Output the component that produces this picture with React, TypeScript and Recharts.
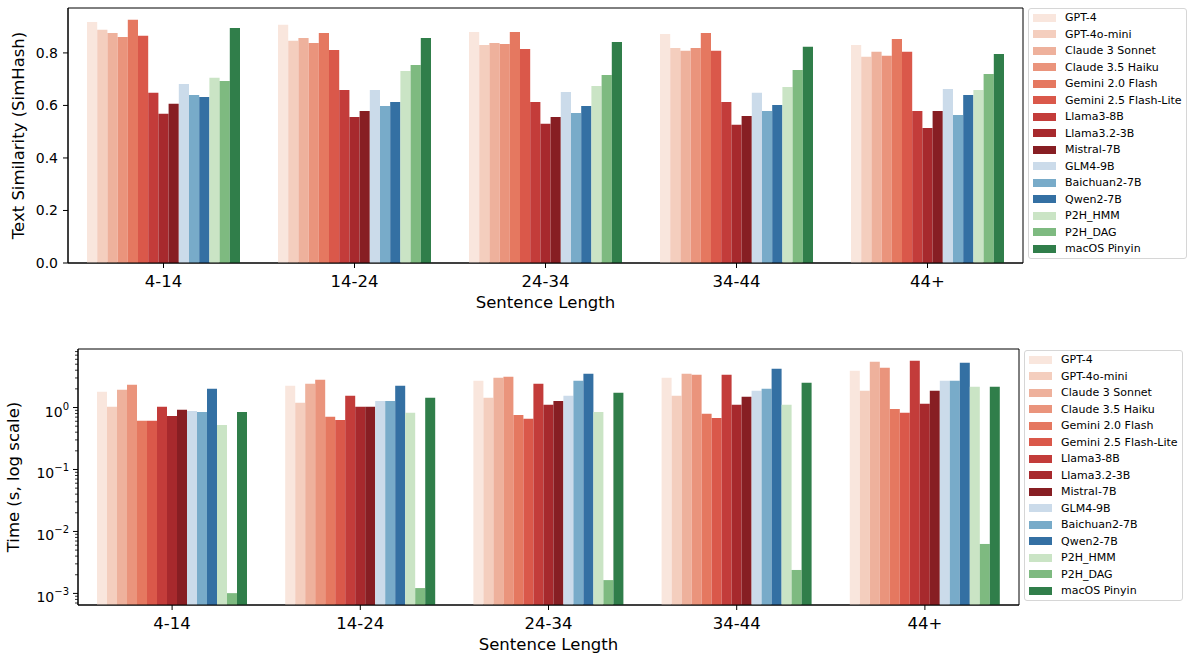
import React from 'react';
import { BarChart, Bar, XAxis, YAxis, ReferenceArea } from 'recharts';

const categories = ['4-14', '14-24', '24-34', '34-44', '44+'];

const models = [
  'GPT-4',
  'GPT-4o-mini',
  'Claude 3 Sonnet',
  'Claude 3.5 Haiku',
  'Gemini 2.0 Flash',
  'Gemini 2.5 Flash-Lite',
  'Llama3-8B',
  'Llama3.2-3B',
  'Mistral-7B',
  'GLM4-9B',
  'Baichuan2-7B',
  'Qwen2-7B',
  'P2H_HMM',
  'P2H_DAG',
  'macOS Pinyin',
];

// seaborn Reds / Blues / Greens, desaturated to 0.75
const colors = [
  '#f9e6dd', '#f4cebe', '#eeb19c', '#ea947c', '#e57860', '#da584a', '#c33c3a', '#a7292d', '#871e23',
  '#cbdbea', '#78abc9', '#3470a3',
  '#cae4c5', '#7eba80', '#307e4a',
];

// text similarity (SimHash), one array per length bucket, in model order
const sim4to14 = [0.918, 0.888, 0.876, 0.861, 0.926, 0.865, 0.648, 0.568, 0.606, 0.682, 0.64, 0.632, 0.705, 0.693, 0.895];
const sim14to24 = [0.907, 0.846, 0.857, 0.838, 0.876, 0.811, 0.659, 0.556, 0.579, 0.659, 0.598, 0.613, 0.731, 0.754, 0.857];
const sim24to34 = [0.88, 0.83, 0.838, 0.834, 0.88, 0.815, 0.613, 0.53, 0.556, 0.651, 0.571, 0.598, 0.674, 0.716, 0.842];
const sim34to44 = [0.872, 0.819, 0.808, 0.819, 0.876, 0.808, 0.613, 0.526, 0.56, 0.648, 0.579, 0.602, 0.67, 0.735, 0.823];
const sim44plus = [0.83, 0.785, 0.804, 0.789, 0.853, 0.804, 0.579, 0.514, 0.579, 0.663, 0.564, 0.64, 0.659, 0.72, 0.796];

// time in seconds
const time4to14 = [1.79, 1.03, 1.93, 2.33, 0.61, 0.61, 1.03, 0.73, 0.92, 0.88, 0.85, 2.0, 0.52, 0.00101, 0.85];
const time14to24 = [2.24, 1.19, 2.42, 2.8, 0.71, 0.63, 1.55, 1.03, 1.03, 1.28, 1.28, 2.24, 0.82, 0.00122, 1.44];
const time24to34 = [2.7, 1.44, 3.02, 3.15, 0.76, 0.66, 2.42, 1.11, 1.28, 1.55, 2.7, 3.51, 0.85, 0.00164, 1.73];
const time34to44 = [3.02, 1.55, 3.51, 3.37, 0.79, 0.68, 3.37, 1.11, 1.49, 1.86, 2.0, 4.22, 1.11, 0.00239, 2.51];
const time44plus = [3.92, 1.86, 5.47, 4.39, 0.95, 0.82, 5.68, 1.15, 1.86, 2.7, 2.7, 5.27, 2.16, 0.00628, 2.16];

const simDomain = [0, 0.971];
const timeDomain = [0.00065, 8.8];
const simTicks = [0, 0.2, 0.4, 0.6, 0.8];
const logMajor = [0.001, 0.01, 0.1, 1];
const logMinor = [0.0001, 0.001, 0.01, 0.1, 1]
  .flatMap((d) => [2, 3, 4, 5, 6, 7, 8, 9].map((m) => +(d * m).toPrecision(2)))
  .filter((v) => v > timeDomain[0] && v < timeDomain[1]);

const toRows = (byCat: number[][]) =>
  categories.map((cat, ci) => {
    const row: Record<string, string | number> = { cat };
    byCat[ci].forEach((v, i) => {
      row['m' + i] = v;
    });
    return row;
  });

const simRows = toRows([sim4to14, sim14to24, sim24to34, sim34to44, sim44plus]);
const timeRows = toRows([time4to14, time14to24, time24to34, time34to44, time44plus]);

const FONT = '"DejaVu Sans", sans-serif';

const LogTick = (props: any) => {
  const { x, y, payload } = props;
  const v = payload.value;
  const major = logMajor.some((m) => Math.abs(m - v) < 1e-9);
  if (!major) {
    return <line x1={x - 3} x2={x} y1={y} y2={y} stroke="#000" strokeWidth={0.8} />;
  }
  const exp = Math.round(Math.log10(v));
  return (
    <g>
      <line x1={x - 5} x2={x} y1={y} y2={y} stroke="#000" strokeWidth={1} />
      <text x={x - 9} y={y + 9} textAnchor="end" fontSize={14} fill="#000" fontFamily={FONT}>
        10
        <tspan dy={-7} fontSize={10}>
          {exp < 0 ? '\u2212' + Math.abs(exp) : String(exp)}
        </tspan>
      </text>
    </g>
  );
};

function LegendBox({ left, top }: { left: number; top: number }) {
  return (
    <div
      style={{
        position: 'absolute',
        left,
        top,
        width: 159,
        height: 251,
        boxSizing: 'border-box',
        border: '1px solid #d6d6d6',
        borderRadius: 3,
        paddingTop: 0.5,
        fontFamily: FONT,
        fontSize: 11,
        color: '#000',
        background: 'rgba(255,255,255,0.8)',
      }}
    >
      {models.map((m, i) => (
        <div key={m} style={{ height: 16.5, display: 'flex', alignItems: 'center' }}>
          <span style={{ width: 23, height: 8, marginLeft: 4, marginRight: 9, background: colors[i] }} />
          <span style={{ whiteSpace: 'nowrap' }}>{m}</span>
        </div>
      ))}
    </div>
  );
}

function bars() {
  return models.map((m, i) => (
    <Bar key={m} dataKey={'m' + i} name={m} fill={colors[i]} isAnimationActive={false} />
  ));
}

// plot frame (all four spines): first band start to last band end, full y domain
const frame = (domain: number[]) => (
  <ReferenceArea
    x1={categories[0]}
    x2={categories[categories.length - 1]}
    y1={domain[0]}
    y2={domain[1]}
    fill="none"
    fillOpacity={0}
    stroke="#000"
    strokeWidth={1}
    ifOverflow="visible"
  />
);

export default function App() {
  const tickStyle = { fontSize: 16.5, fill: '#000', fontFamily: FONT };
  return (
    <div style={{ position: 'absolute', left: 0, top: 0, width: 1192, height: 657, background: '#fff', fontFamily: FONT }}>
      <div style={{ position: 'absolute', left: 0, top: 0 }}>
        <BarChart
          width={1030}
          height={320}
          data={simRows}
          margin={{ top: 8, right: 7, bottom: 7, left: 0 }}
          barCategoryGap={0}
          barGap={0}
          barSize={10.2}
        >
          <XAxis
            dataKey="cat"
            height={50}
            stroke="#000"
            tickSize={5}
            tickMargin={7}
            tick={tickStyle}
            label={{ value: 'Sentence Length', position: 'insideBottom', offset: 5, style: { fontSize: 16.5, fill: '#000' } }}
          />
          <YAxis
            width={68}
            type="number"
            domain={simDomain}
            allowDataOverflow
            ticks={simTicks}
            interval={0}
            tickFormatter={(v: number) => v.toFixed(1)}
            stroke="#000"
            tickSize={5}
            tickMargin={5}
            tick={{ fontSize: 14, fill: '#000', fontFamily: FONT }}
            label={{
              value: 'Text Similarity (SimHash)',
              angle: -90,
              position: 'insideLeft',
              offset: 18,
              style: { textAnchor: 'middle', fontSize: 16.5, fill: '#000' },
            }}
          />
          {bars()}
          {frame(simDomain)}
        </BarChart>
      </div>
      <LegendBox left={1028} top={8} />

      <div style={{ position: 'absolute', left: 0, top: 335 }}>
        <BarChart
          width={1022}
          height={322}
          data={timeRows}
          margin={{ top: 14, right: 3, bottom: 2, left: 0 }}
          barCategoryGap={0}
          barGap={0}
          barSize={10}
        >
          <XAxis
            dataKey="cat"
            height={50}
            stroke="#000"
            tickSize={5}
            tickMargin={7}
            tick={tickStyle}
            label={{ value: 'Sentence Length', position: 'insideBottom', offset: 5, style: { fontSize: 16.5, fill: '#000' } }}
          />
          <YAxis
            width={78}
            type="number"
            scale="log"
            domain={timeDomain}
            allowDataOverflow
            ticks={[...logMajor, ...logMinor]}
            interval={0}
            stroke="#000"
            tickSize={0}
            tickMargin={0}
            tickLine={false}
            tick={<LogTick />}
            label={{
              value: 'Time (s, log scale)',
              angle: -90,
              position: 'insideLeft',
              offset: 13,
              style: { textAnchor: 'middle', fontSize: 16.5, fill: '#000' },
            }}
          />
          {bars()}
          {frame(timeDomain)}
        </BarChart>
      </div>
      <LegendBox left={1024} top={350} />
    </div>
  );
}
